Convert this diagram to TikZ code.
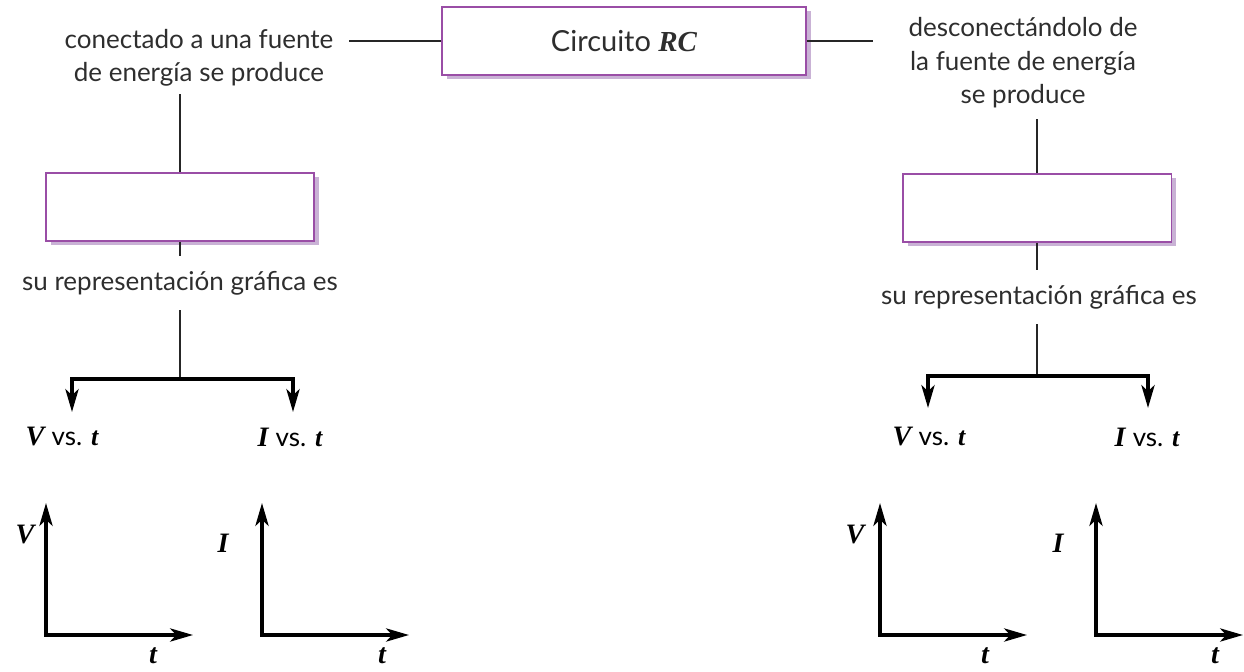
\documentclass[tikz,border=0pt]{standalone}
\usepackage{fontspec}
\setmainfont{Lato}
\newfontfamily\timesbi{Liberation Serif}
\usetikzlibrary{arrows.meta,shadows}
\definecolor{boxline}{HTML}{9A4EA6}
\definecolor{boxshade}{HTML}{C9B2D5}
\definecolor{txtgray}{HTML}{2E2E2E}
\newcommand{\bv}[1]{{\timesbi\bfseries\itshape #1}}

\tikzset{
  conceptbox/.style={draw=boxline,line width=1.1pt,fill=white,minimum height=1.36cm,
    drop shadow={shadow xshift=0.1cm,shadow yshift=-0.08cm,fill=boxshade,opacity=1}},
  linktext/.style={text=txtgray,align=center,inner sep=0pt,font=\fontsize{14.8}{19}\selectfont},
  conn/.style={line width=0.8pt,black!85},
  tip/.tip={Stealth[length=13pt,width=7.5pt,inset=3.5pt]},
  branch/.style={line width=2pt,black,-tip},
  axis/.style={line width=2pt,black,tip-tip},
  varlabel/.style={inner sep=0pt,font=\fontsize{16}{19}\selectfont}
}

\begin{document}
\begin{tikzpicture}[x=0.02cm,y=-0.02cm]
  \useasboundingbox (0,0) rectangle (1244,672);

  % top concept
  \node[conceptbox,minimum width=7.28cm,linktext,font=\fontsize{16.5}{19}\selectfont] (rc) at (624,41) {Circuito \bv{RC}};

  % left branch: charging
  \node[linktext] (ltxt) at (199,58) {conectado a una fuente\\de energía se produce};
  \node[conceptbox,minimum width=5.36cm] (lbox) at (180,207) {};
  \node[linktext] (lsu) at (180,283) {su representación gráfica es};
  \coordinate (lj) at (180,379);
  \coordinate (lva) at (72,412);
  \coordinate (lia) at (293,412);
  \node[varlabel] (lv) at (62,437) {\bv{V} \fontsize{14.8}{19}\selectfont vs. \bv{t}};
  \node[varlabel] (li) at (290,437) {\bv{I} \fontsize{14.8}{19}\selectfont vs. \bv{t}};

  % right branch: discharging
  \node[linktext] (rtxt) at (1023,63) {desconectándolo de\\la fuente de energía\\se produce};
  \node[conceptbox,minimum width=5.38cm] (rbox) at (1037,208) {};
  \node[linktext] (rsu) at (1039,297) {su representación gráfica es};
  \coordinate (rj) at (1037,376);
  \coordinate (rva) at (928,408);
  \coordinate (ria) at (1148,408);
  \node[varlabel] (rv) at (929,437) {\bv{V} \fontsize{14.8}{19}\selectfont vs. \bv{t}};
  \node[varlabel] (ri) at (1147,437) {\bv{I} \fontsize{14.8}{19}\selectfont vs. \bv{t}};

  % connectors
  \draw[conn] (rc.west) -- ([xshift=0.3cm]ltxt.east |- rc.west);
  \draw[conn] (rc.east) -- ++(66,0);
  \draw[conn] (lbox.north) -- ([yshift=-0.15cm]lbox.north |- ltxt.south);
  \draw[conn] (lbox.south) -- ([yshift=0.3cm]lbox.south |- lsu.north);
  \draw[conn] ([yshift=-0.3cm]lsu.south -| lj) -- (lj);
  \draw[branch] (lj) -| (lva);
  \draw[branch] (lj) -| (lia);
  \draw[conn] (rbox.north) -- ([yshift=-0.2cm]rbox.north |- rtxt.south);
  \draw[conn] (rbox.south) -- ([yshift=0.3cm]rbox.south |- rsu.north);
  \draw[conn] ([yshift=-0.3cm]rsu.south -| rj) -- (rj);
  \draw[branch] (rj) -| (rva);
  \draw[branch] (rj) -| (ria);

  % empty graphs
  \foreach \ox/\lab/\lx/\ly/\tx in {46/V/25/535/107, 262/I/223/543/120, 880/V/855/535/105, 1096/I/1058/543/119} {
    \draw[axis] (\ox,503) |- (\ox+147,635);
    \node[varlabel] at (\lx,\ly) {\bv{\lab}};
    \node[varlabel] at (\ox+\tx,656) {\bv{t}};
  }
\end{tikzpicture}
\end{document}
